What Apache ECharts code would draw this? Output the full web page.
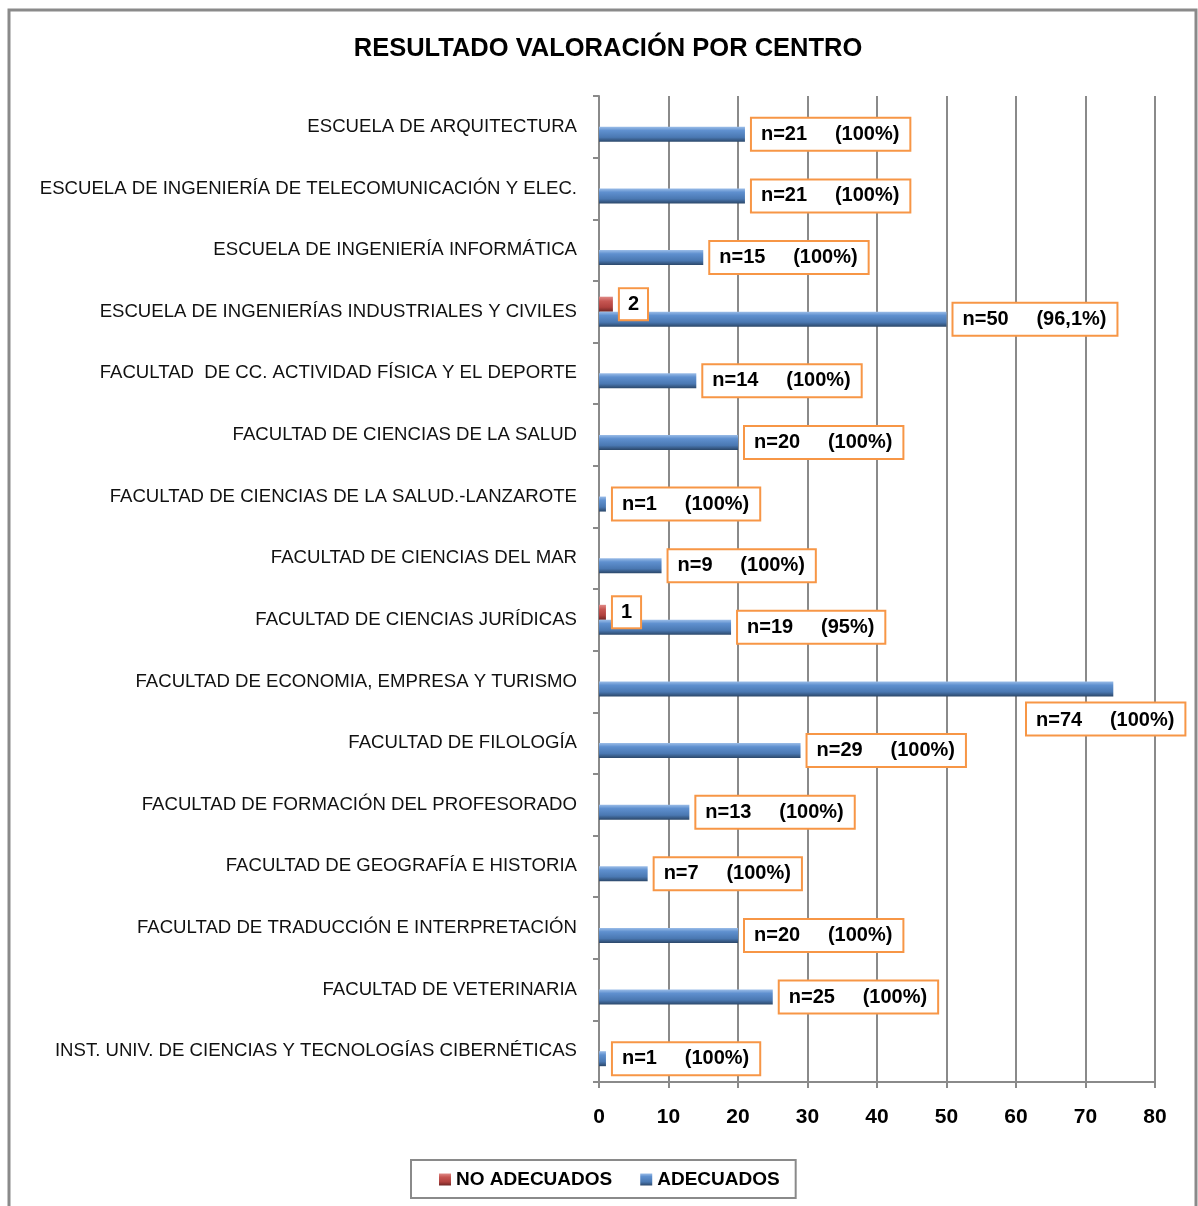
<!DOCTYPE html>
<html>
<head>
<meta charset="utf-8">
<script src="https://cdn.jsdelivr.net/npm/echarts@6/dist/echarts.min.js"></script>
<style>
  html, body { margin: 0; padding: 0; background: #fff; }
  #chart { width: 1198px; height: 1206px; }
</style>
</head>
<body>
<div id="chart"></div>
<script>
// categorías (de arriba a abajo)
var centros = [
    'ESCUELA DE ARQUITECTURA',
    'ESCUELA DE INGENIERÍA DE TELECOMUNICACIÓN Y ELEC.',
    'ESCUELA DE INGENIERÍA INFORMÁTICA',
    'ESCUELA DE INGENIERÍAS INDUSTRIALES Y CIVILES',
    'FACULTAD  DE CC. ACTIVIDAD FÍSICA Y EL DEPORTE',
    'FACULTAD DE CIENCIAS DE LA SALUD',
    'FACULTAD DE CIENCIAS DE LA SALUD.-LANZAROTE',
    'FACULTAD DE CIENCIAS DEL MAR',
    'FACULTAD DE CIENCIAS JURÍDICAS',
    'FACULTAD DE ECONOMIA, EMPRESA Y TURISMO',
    'FACULTAD DE FILOLOGÍA',
    'FACULTAD DE FORMACIÓN DEL PROFESORADO',
    'FACULTAD DE GEOGRAFÍA E HISTORIA',
    'FACULTAD DE TRADUCCIÓN E INTERPRETACIÓN',
    'FACULTAD DE VETERINARIA',
    'INST. UNIV. DE CIENCIAS Y TECNOLOGÍAS CIBERNÉTICAS'
]
var adecuados = [21, 21, 15, 50, 14, 20, 1, 9, 19, 74, 29, 13, 7, 20, 25, 1]
var noAdecuados = [null, null, null, 2, null, null, null, null, 1, null, null, null, null, null, null, null]
var porcentaje = ['100%', '100%', '100%', '96,1%', '100%', '100%', '100%', '100%', '95%', '100%', '100%', '100%', '100%', '100%', '100%', '100%']
var ejeX = { min: 0, max: 80, interval: 10 }

var myChart = echarts.init(document.getElementById('chart'))

var gris = '#8a8a8a'
var azul = new echarts.graphic.LinearGradient(0, 0, 0, 1, [
    { offset: 0, color: '#9bbde8' },
    { offset: 0.25, color: '#5f90cf' },
    { offset: 0.7, color: '#4a78b2' },
    { offset: 1, color: '#2b4769' }
])
var rojo = new echarts.graphic.LinearGradient(0, 0, 0, 1, [
    { offset: 0, color: '#e08a87' },
    { offset: 0.3, color: '#c65652' },
    { offset: 0.7, color: '#b0413e' },
    { offset: 1, color: '#6e2624' }
])

var etiqueta = {
    show: true,
    position: 'right',
    distance: 7,
    color: '#000',
    fontFamily: 'Liberation Sans',
    fontSize: 20,
    fontWeight: 'bold',
    backgroundColor: '#fff',
    borderColor: '#f79646',
    borderWidth: 2,
    padding: [7, 10, 4, 9]
}

var datosAdecuados = adecuados.map(function (v, i) {
    var d = { value: v }
    // la barra más larga lleva la etiqueta debajo
    if (v === 74) {
        d.label = { position: [428, 22] }
    }
    return d
})

option = {
    animation: false,
    graphic: [{
        type: 'rect',
        shape: { x: 9, y: 10, width: 1187, height: 1220 },
        style: { fill: 'none', stroke: gris, lineWidth: 3 },
        silent: true
    }],
    title: {
        text: 'RESULTADO VALORACIÓN POR CENTRO',
        left: 603,
        textAlign: 'center',
        top: 31,
        textStyle: {
            fontFamily: 'Liberation Sans',
            fontSize: 25.5,
            fontWeight: 'bold',
            color: '#000'
        }
    },
    legend: {
        left: 411,
        bottom: 8,
        padding: [10, 16, 9, 28],
        itemGap: 28,
        itemWidth: 12,
        itemHeight: 12,
        icon: 'rect',
        borderColor: gris,
        borderWidth: 2,
        textStyle: {
            fontFamily: 'Liberation Sans',
            fontSize: 19,
            fontWeight: 'bold',
            color: '#000'
        },
        data: ['NO ADECUADOS', 'ADECUADOS']
    },
    grid: {
        left: 599,
        right: 43,
        top: 96,
        bottom: 124
    },
    xAxis: {
        type: 'value',
        min: ejeX.min,
        max: ejeX.max,
        interval: ejeX.interval,
        axisLine: { show: true, lineStyle: { color: gris, width: 2 } },
        axisTick: { show: true, length: 6, lineStyle: { color: gris, width: 2 } },
        splitLine: { show: true, lineStyle: { color: gris, width: 2 } },
        axisLabel: {
            margin: 25,
            color: '#000',
            fontFamily: 'Liberation Sans',
            fontSize: 21,
            fontWeight: 'bold'
        }
    },
    yAxis: {
        type: 'category',
        inverse: true,
        data: centros,
        axisLine: { show: true, lineStyle: { color: gris, width: 2 } },
        axisTick: { show: true, length: 6, lineStyle: { color: gris, width: 2 } },
        axisLabel: {
            margin: 22,
            color: '#111',
            fontFamily: 'Liberation Sans',
            fontSize: 18.6
        }
    },
    series: [{
        name: 'NO ADECUADOS',
        type: 'bar',
        data: noAdecuados,
        barWidth: 15,
        barGap: '0%',
        itemStyle: { color: rojo },
        label: Object.assign({}, etiqueta, { padding: [6, 8, 4, 8] })
    }, {
        name: 'ADECUADOS',
        type: 'bar',
        data: datosAdecuados,
        barWidth: 15,
        barGap: '0%',
        itemStyle: { color: azul },
        label: Object.assign({}, etiqueta, {
            formatter: function (p) {
                return 'n=' + p.value + '     (' + porcentaje[p.dataIndex] + ')'
            }
        })
    }]
}
myChart.setOption(option)
</script>
</body>
</html>
